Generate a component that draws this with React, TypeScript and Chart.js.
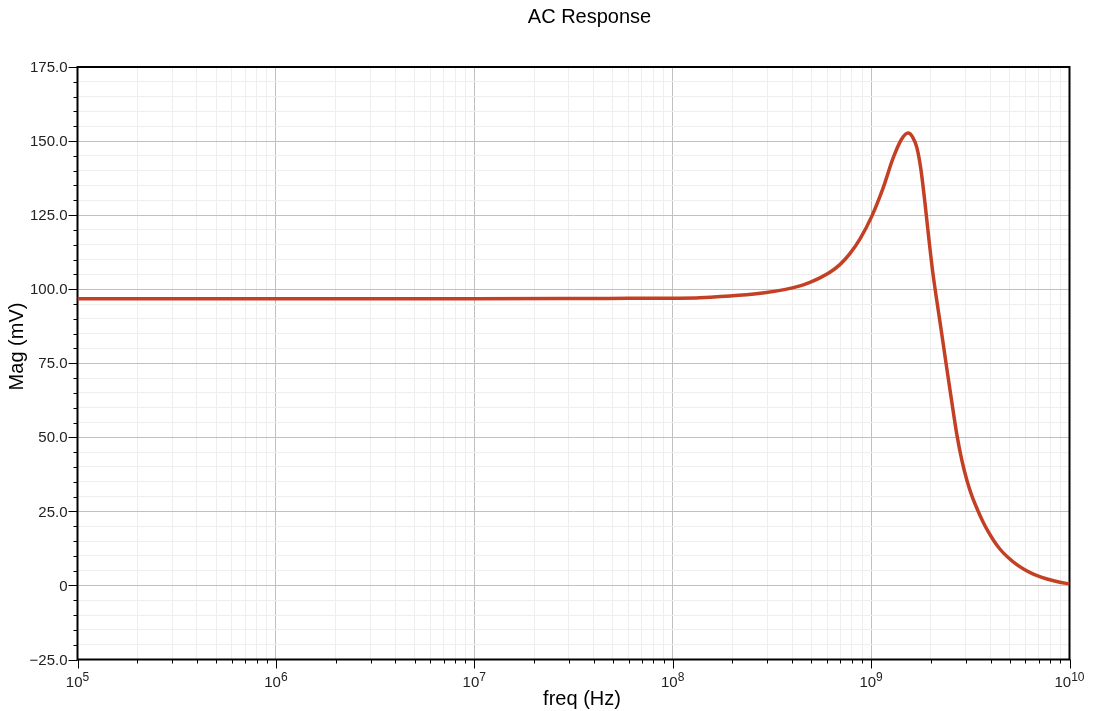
import React, { useEffect, useRef } from "react";
import { Chart, registerables } from "chart.js";

Chart.register(...registerables);

// ---- data ----
const freqHz: number[] = [
  1e5, 1e6, 1e7, 3e7, 6e7, 1e8, 1.37e8, 2.97e8, 4.38e8, 4.916e8, 5.52e8, 6.199e8, 6.96e8,
  7.818e8, 8.78e8, 1.006e9, 1.15e9, 1.292e9, 1.424e9, 1.537e9, 1.624e9, 1.701e9, 1.782e9,
  1.866e9, 1.955e9, 2.048e9, 2.145e9, 2.247e9, 2.38e9, 2.537e9, 2.704e9, 2.866e9, 3.037e9,
  3.218e9, 3.451e9, 3.657e9, 3.875e9, 4.154e9, 4.456e9, 4.889e9, 5.405e9, 5.954e9,
  6.534e9, 7.253e9, 7.956e9, 8.944e9, 1e10,
];
const magMv: number[] = [
  96.8, 96.8, 96.8, 96.85, 96.9, 96.95, 97.1, 98.85, 101.1, 102.3, 103.8, 105.7, 108.3,
  112.0, 116.9, 124.5, 134.2, 144.3, 150.6, 152.7, 151.2, 147.8, 140.5,
  129.5, 117.0, 105.5, 96.0, 87.0, 75.5, 63.0, 51.0, 42.3, 35.6,
  30.3, 25.3, 21.6, 18.4, 15.1, 12.3, 9.5, 7.1, 5.3,
  3.9, 2.7, 1.9, 1.1, 0.5,
];
const yMajorTicks: number[] = [-25, 0, 25, 50, 75, 100, 125, 150, 175];
const yMinorStep = 5;
const xDecades: number[] = [5, 6, 7, 8, 9, 10];
const titleText = "AC Response";
const xTitle = "freq (Hz)";
const yTitle = "Mag (mV)";

const FONT = '"Liberation Sans", Arial, Helvetica, sans-serif';

const yAllTicks: number[] = [];
for (let v = yMajorTicks[0]; v <= yMajorTicks[yMajorTicks.length - 1]; v += yMinorStep) yAllTicks.push(v);
const xAllTicks: number[] = [];
for (let i = 0; i < xDecades.length; i++) {
  const d = xDecades[i];
  xAllTicks.push(Math.pow(10, d));
  if (i < xDecades.length - 1) for (let k = 2; k <= 9; k++) xAllTicks.push(k * Math.pow(10, d));
}
const isXMajor = (v: number) => Math.abs(Math.log10(v) - Math.round(Math.log10(v))) < 1e-9;
const isYMajor = (v: number) => Math.abs(v % 25) < 1e-9;

const decor = {
  id: "decor",
  beforeDatasetsDraw(chart: any) {
    const { ctx, chartArea: a } = chart;
    ctx.save();
    ctx.strokeStyle = "#000";
    ctx.lineWidth = 2;
    ctx.strokeRect(a.left, a.top, a.right - a.left, a.bottom - a.top);
    ctx.restore();
  },
  afterDraw(chart: any) {
    const { ctx, chartArea: a, scales } = chart;
    const x = scales.x, y = scales.y;
    ctx.save();
    ctx.strokeStyle = "#000";
    ctx.lineWidth = 1;
    ctx.beginPath();
    for (const v of yAllTicks) {
      const py = Math.round(y.getPixelForValue(v)) + 0.5;
      const len = isYMajor(v) ? 9 : 4;
      ctx.moveTo(a.left - len, py);
      ctx.lineTo(a.left, py);
    }
    for (const v of xAllTicks) {
      const px = Math.round(x.getPixelForValue(v)) + 0.5;
      const len = isXMajor(v) ? 9 : 4;
      ctx.moveTo(px, a.bottom);
      ctx.lineTo(px, a.bottom + len);
    }
    ctx.stroke();

    ctx.fillStyle = "#222";
    ctx.font = `15px ${FONT}`;
    ctx.textAlign = "right";
    ctx.textBaseline = "middle";
    for (const v of yMajorTicks) {
      const lbl = v === 0 ? "0" : (v < 0 ? "\u2212" : "") + Math.abs(v).toFixed(1);
      ctx.fillText(lbl, a.left - 10, y.getPixelForValue(v) + 1);
    }

    ctx.textAlign = "left";
    ctx.textBaseline = "alphabetic";
    for (const d of xDecades) {
      const px = x.getPixelForValue(Math.pow(10, d));
      ctx.font = `15px ${FONT}`;
      const w1 = ctx.measureText("10").width;
      ctx.font = `12px ${FONT}`;
      const w2 = ctx.measureText(String(d)).width;
      const start = px - (w1 + w2) / 2;
      ctx.font = `15px ${FONT}`;
      ctx.fillText("10", start, a.bottom + 27);
      ctx.font = `12px ${FONT}`;
      ctx.fillText(String(d), start + w1, a.bottom + 21);
    }

    ctx.fillStyle = "#000";
    ctx.font = `20px ${FONT}`;
    ctx.textAlign = "center";
    ctx.fillText(titleText, 589.5, 23);
    ctx.fillText(xTitle, 582, 705);
    ctx.translate(22.5, 346.5);
    ctx.rotate(-Math.PI / 2);
    ctx.fillText(yTitle, 0, 0);
    ctx.restore();
  },
};

export default function App() {
  const ref = useRef<HTMLCanvasElement>(null);
  useEffect(() => {
    const chart = new Chart(ref.current as HTMLCanvasElement, {
      type: "line",
      data: {
        datasets: [
          {
            label: "Mag",
            data: freqHz.map((f, i) => ({ x: f, y: magMv[i] })),
            borderColor: "rgb(196,64,36)",
            borderWidth: 3.5,
            pointRadius: 0,
            fill: false,
            cubicInterpolationMode: "monotone",
          },
        ],
      },
      options: {
        animation: false,
        responsive: false,
        layout: { padding: { left: 77.5, top: 67, right: 23.5, bottom: 51.5 } },
        plugins: { legend: { display: false }, title: { display: false }, tooltip: { enabled: false } },
        scales: {
          x: {
            type: "logarithmic",
            min: 1e5,
            max: 1e10,
            afterBuildTicks: (s: any) => {
              s.ticks = xAllTicks.map((v) => ({ value: v }));
            },
            ticks: { display: false },
            grid: {
              drawTicks: false,
              color: (c: any) => (isXMajor(c.tick.value) ? "#c0c0c0" : "#eeeeee"),
              lineWidth: 1,
            },
            border: { display: false },
          },
          y: {
            type: "linear",
            min: -25,
            max: 175,
            afterBuildTicks: (s: any) => {
              s.ticks = yAllTicks.map((v) => ({ value: v }));
            },
            ticks: { display: false },
            grid: {
              drawTicks: false,
              color: (c: any) => (isYMajor(c.tick.value) ? "#c0c0c0" : "#eeeeee"),
              lineWidth: 1,
            },
            border: { display: false },
          },
        },
      } as any,
      plugins: [decor],
    });
    return () => chart.destroy();
  }, []);
  return (
    <canvas
      ref={ref}
      width={1093}
      height={711}
      style={{ position: "fixed", left: 0, top: 0, display: "block", width: 1093, height: 711, background: "#fff" }}
    />
  );
}
